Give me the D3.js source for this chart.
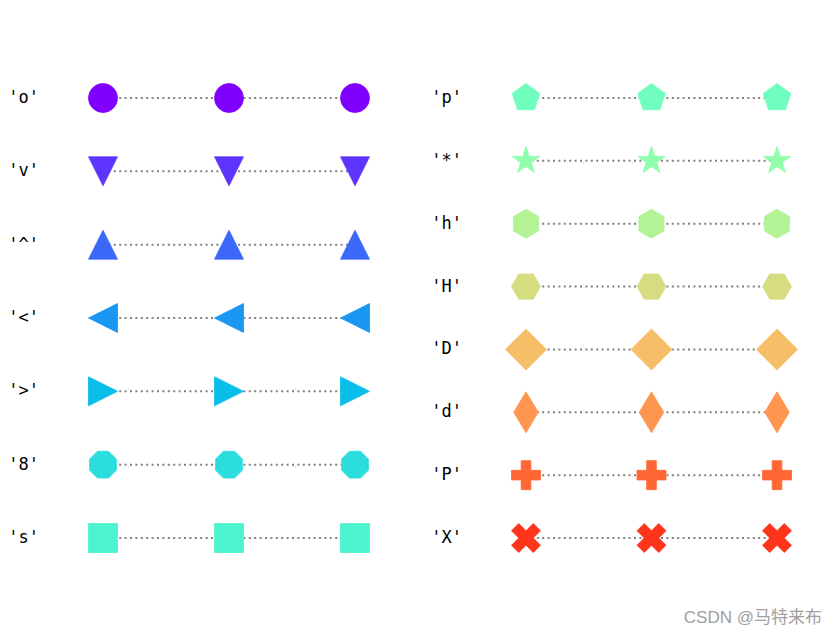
<!DOCTYPE html>
<html>
<head>
<meta charset="utf-8">
<script src="https://cdn.jsdelivr.net/npm/d3@7"></script>
<style>
  html, body { margin: 0; padding: 0; background: #ffffff; }
  svg { display: block; }
</style>
</head>
<body>
<svg id="chart" width="837" height="636"></svg>
<script>
// ---- data ----
const leftMarkers  = ["o", "v", "^", "<", ">", "8", "s"];
const rightMarkers = ["p", "*", "h", "H", "D", "d", "P", "X"];
const leftColors  = ["#8000ff", "#5e35fe", "#3c68f9", "#1a96f3", "#09bee9", "#2bdddd", "#4df3ce"];
const rightColors = ["#6ffebe", "#91feab", "#b3f396", "#d5dd80", "#f7be68", "#ff964f", "#ff6835", "#ff351b"];
const positions = [0, 1, 2];

// ---- layout ----
const W = 837, H = 636;
const svg = d3.select("#chart");
const MS = 29; // marker size (px)

// unit marker paths (matplotlib conventions, y up; flipped below)
function regPoly(n, r, rotDeg) {
  const pts = [];
  for (let i = 0; i < n; i++) {
    const a = 2 * Math.PI * i / n + Math.PI / 2 + rotDeg * Math.PI / 180;
    pts.push([r * Math.cos(a), r * Math.sin(a)]);
  }
  return pts;
}
function star(n, r, inner) {
  const pts = [];
  for (let i = 0; i < 2 * n; i++) {
    const a = Math.PI * i / n + Math.PI / 2;
    const rr = i % 2 === 0 ? r : r * inner;
    pts.push([rr * Math.cos(a), rr * Math.sin(a)]);
  }
  return pts;
}
function rot(pts, deg) {
  const a = deg * Math.PI / 180, c = Math.cos(a), s = Math.sin(a);
  return pts.map(([x, y]) => [x * c - y * s, x * s + y * c]);
}
const tri = [[0, 0.5], [-0.5, -0.5], [0.5, -0.5]];
const sq = [[-0.5, -0.5], [0.5, -0.5], [0.5, 0.5], [-0.5, 0.5]];
const shapes = {
  "v": rot(tri, 180),
  "^": tri,
  "<": rot(tri, 90),
  ">": rot(tri, -90),
  "8": regPoly(8, 0.5, 22.5),
  "s": sq,
  "p": regPoly(5, 0.5, 0),
  "*": star(5, 0.5, 0.381966),
  "h": regPoly(6, 0.5, 0),
  "H": regPoly(6, 0.5, 30),
  "D": rot(sq, 45),
  "d": rot(sq, 45).map(([x, y]) => [x * 0.6, y]),
  "P": [[-1,-3],[1,-3],[1,-1],[3,-1],[3,1],[1,1],[1,3],[-1,3],[-1,1],[-3,1],[-3,-1],[-1,-1]].map(([x,y]) => [x/6, y/6]),
  "X": [[-1,-2],[0,-1],[1,-2],[2,-1],[1,0],[2,1],[1,2],[0,1],[-1,2],[-2,1],[-1,0],[-2,-1]].map(([x,y]) => [x/4, y/4])
};
function markerPath(m) {
  if (m === "o") {
    const p = d3.path();
    p.arc(0, 0, MS / 2, 0, 2 * Math.PI);
    p.closePath();
    return p.toString();
  }
  const pts = shapes[m].map(([x, y]) => [x * MS, -y * MS]);
  return d3.line()(pts) + "Z";
}

function panel(markers, colors, xRange, labelX) {
  const x = d3.scaleLinear().domain([0, 2]).range(xRange);
  const y = d3.scalePoint().domain(markers).range([98, 538]);
  const g = svg.append("g");
  markers.forEach((m, i) => {
    const row = g.append("g");
    row.append("text")
      .attr("x", labelX)
      .attr("y", y(m) + 5)
      .attr("text-anchor", "end")
      .attr("font-family", "DejaVu Sans Mono, monospace")
      .attr("font-size", 17)
      .attr("fill", "#000")
      .text("'" + m + "'");
    row.append("line")
      .attr("x1", x(positions[0])).attr("x2", x(positions[positions.length - 1]))
      .attr("y1", y(m)).attr("y2", y(m))
      .attr("stroke", "#808080")
      .attr("stroke-width", 2)
      .attr("stroke-dasharray", "2,3.4");
    row.selectAll("path")
      .data(positions)
      .join("path")
      .attr("transform", d => `translate(${x(d)},${y(m)})`)
      .attr("d", markerPath(m))
      .attr("fill", colors[i])
      .attr("stroke", colors[i])
      .attr("stroke-width", 0.8)
      .attr("stroke-linejoin", "miter");
  });
}

panel(leftMarkers, leftColors, [103, 355], 39);
panel(rightMarkers, rightColors, [526, 777], 462);

svg.append("text")
  .attr("x", 822)
  .attr("y", 623)
  .attr("text-anchor", "end")
  .attr("font-family", "Liberation Sans, Noto Sans CJK SC, sans-serif")
  .attr("font-size", 17)
  .attr("fill", "#a0a0a0")
  .text("CSDN @马特来布");
</script>
</body>
</html>
